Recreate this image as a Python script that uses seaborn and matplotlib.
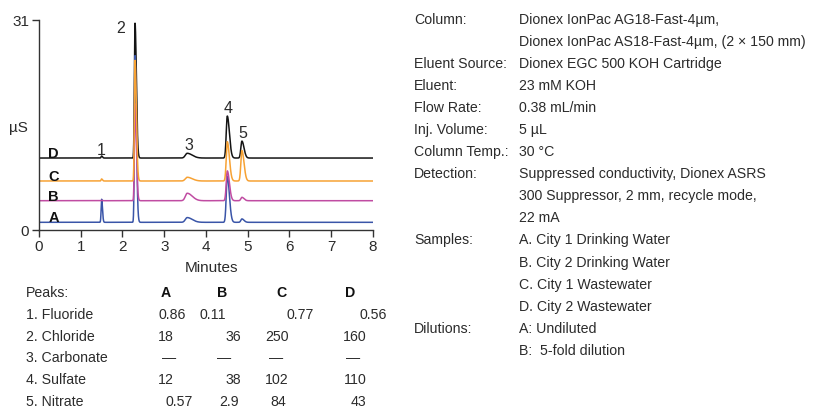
import numpy as np
import pandas as pd
import seaborn as sns
import matplotlib.pyplot as plt
from matplotlib import font_manager

# --- chromatogram data ---
samples = ["A", "B", "C", "D"]
peak_names = ["1", "2", "3", "4", "5"]
retention = [1.50, 2.30, 3.55, 4.51, 4.86]          # min
rise_width = [0.012, 0.015, 0.045, 0.025, 0.025]    # min (leading side)
tail_width = [0.020, 0.032, 0.120, 0.050, 0.050]    # min (tailing side)
offset = {"A": 1.09, "B": 4.28, "C": 7.19, "D": 10.58}   # µS, trace baselines
height_A = [3.4, 24.6, 0.7, 6.8, 0.5]
height_B = [0.05, 14.3, 1.1, 4.4, 0.5]
height_C = [0.3, 17.8, 0.55, 5.8, 4.5]
height_D = [0.3, 19.9, 0.7, 6.2, 2.5]
heights = {"A": height_A, "B": height_B, "C": height_C, "D": height_D}
colors = {"A": "#3a55a8", "B": "#c04ca2", "C": "#f7a234", "D": "#141414"}

# --- text blocks ---
table_header = ["A", "B", "C", "D"]
table_rows = ["1. Fluoride", "2. Chloride", "3. Carbonate", "4. Sulfate", "5. Nitrate"]
conc_A = ["0.86", "18", "\u2014", "12", "0.57"]
conc_B = ["0.11", "36", "\u2014", "38", "2.9"]
conc_C = ["0.77", "250", "\u2014", "102", "84"]
conc_D = ["0.56", "160", "\u2014", "110", "43"]

cond_labels = ["Column:", "", "Eluent Source:", "Eluent:", "Flow Rate:", "Inj. Volume:",
               "Column Temp.:", "Detection:", "", "", "Samples:", "", "", "", "Dilutions:", ""]
cond_values = ["Dionex IonPac AG18-Fast-4\u00b5m,",
               "Dionex IonPac AS18-Fast-4\u00b5m, (2 \u00d7 150 mm)",
               "Dionex EGC 500 KOH Cartridge",
               "23 mM KOH",
               "0.38 mL/min",
               "5 \u00b5L",
               "30 \u00b0C",
               "Suppressed conductivity, Dionex ASRS",
               "300 Suppressor, 2 mm, recycle mode,",
               "22 mA",
               "A. City 1 Drinking Water",
               "B. City 2 Drinking Water",
               "C. City 1 Wastewater",
               "D. City 2 Wastewater",
               "A: Undiluted",
               "B:  5-fold dilution"]

sns.set_style("ticks")
names = {f.name for f in font_manager.fontManager.ttflist}
fam = "Liberation Sans Narrow" if "Liberation Sans Narrow" in names else "Liberation Sans"
plt.rcParams["font.family"] = [fam, "DejaVu Sans"]
txt = "#2b2b2b"
fs = 10.2


def peak(t, t0, h, sl, sr):
    s = np.where(t < t0, sl, sr)
    return h * np.exp(-0.5 * ((t - t0) / s) ** 2)


t = np.linspace(0, 8, 4001)
frames = []
for s in samples:
    y = np.full_like(t, offset[s])
    for i in range(len(peak_names)):
        y = y + peak(t, retention[i], heights[s][i], rise_width[i], tail_width[i])
    frames.append(pd.DataFrame({"Minutes": t, "signal": y, "sample": s}))
df = pd.concat(frames, ignore_index=True)

W, H = 820, 410
fig = plt.figure(figsize=(W / 100, H / 100), dpi=100)
ax = fig.add_axes([39 / W, 1 - 230.7 / H, 334 / W, 210 / H])

sns.lineplot(data=df, x="Minutes", y="signal", hue="sample",
             hue_order=["D", "A", "B", "C"], palette=colors,
             linewidth=1.1, legend=False, ax=ax, estimator=None)

ax.set_xlim(0, 8)
ax.set_ylim(0, 31)
ax.set_xticks(range(9))
ax.set_yticks([0, 31])
ax.set_xlabel("")
ax.set_ylabel("")
sns.despine(ax=ax)
for sp in ["left", "bottom"]:
    ax.spines[sp].set_color("#333333")
    ax.spines[sp].set_linewidth(1.0)
ax.tick_params(axis="both", colors="#333333", labelcolor=txt, labelsize=11,
               length=5, width=1.0, pad=2)

# trace letters and peak numbers
for s in samples:
    ax.text(0.22, offset[s] + 0.15, s, fontsize=10.5, fontweight="bold",
            color="#111111", ha="left", va="baseline")
peak_label_pos = [(1.49, 11.8), (1.96, 29.9), (3.59, 12.6), (4.52, 18.1), (4.89, 14.4)]
for name, (px, py) in zip(peak_names, peak_label_pos):
    ax.text(px, py, name, fontsize=11.5, color=txt, ha="center", va="center")

fig.text(18 / W, 1 - 128 / H, "\u00b5S", fontsize=11, color=txt, ha="center", va="center")
fig.text(212 / W, 1 - 268 / H, "Minutes", fontsize=11, color=txt, ha="center", va="center")

# peak table
row_y = [293, 315, 337, 358, 380, 402]
fig.text(26 / W, 1 - row_y[0] / H, "Peaks:", fontsize=fs, color=txt, va="center")
header_x = [166, 222, 282, 350]
for hx, hl in zip(header_x, table_header):
    fig.text(hx / W, 1 - row_y[0] / H, hl, fontsize=fs, fontweight="bold",
             color="#111111", ha="center", va="center")
cell_x = [[172, 213, 300, 373],
          [166, 233, 277, 355],
          [169, 224, 276, 353],
          [166, 233, 277, 355],
          [179, 229, 278, 358]]
cols = [conc_A, conc_B, conc_C, conc_D]
for r, label in enumerate(table_rows):
    yy = 1 - row_y[r + 1] / H
    fig.text(26 / W, yy, label, fontsize=fs, color=txt, va="center")
    for c in range(4):
        fig.text(cell_x[r][c] / W, yy, cols[c][r], fontsize=fs, color=txt,
                 ha="center", va="center")

# conditions block
for i, (lab, val) in enumerate(zip(cond_labels, cond_values)):
    yy = 1 - (20 + i * 22.05) / H
    if lab:
        fig.text(414 / W, yy, lab, fontsize=fs, color=txt, va="center")
    fig.text(519 / W, yy, val, fontsize=fs, color=txt, va="center")

fig.savefig("out.png", dpi=100)
